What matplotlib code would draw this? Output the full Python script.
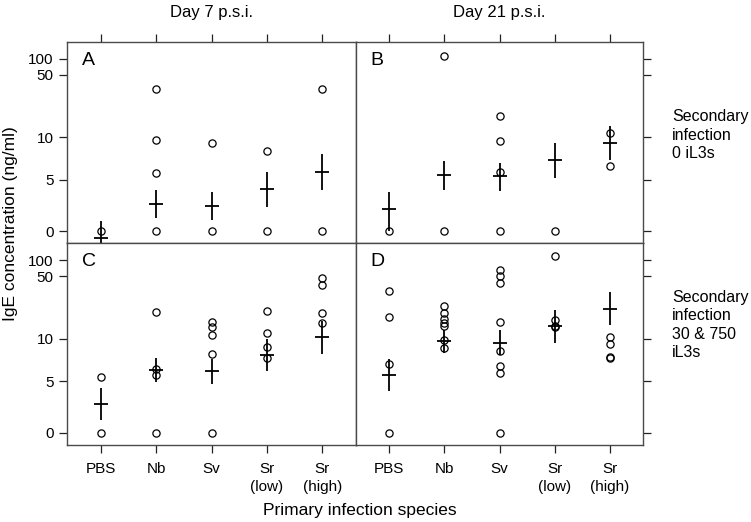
import numpy as np
import matplotlib
matplotlib.use('Agg')
import matplotlib.pyplot as plt
from matplotlib.ticker import NullLocator

plt.rcParams['font.family'] = ['Liberation Sans', 'DejaVu Sans']

categories = ['PBS', 'Nb', 'Sv', 'Sr\n(low)', 'Sr\n(high)']
y_ticks = [0, 5, 10, 50, 100]

# IgE values (ng/ml), one list of observations per group
pointsA = [[0], [35.0, 9.6, 5.6, 0], [9.1, 0], [8.1, 0], [35.0, 0]]
meanA = [-0.2, 1.6, 1.45, 3.4, 5.7]
loA = [-0.5, 0.59, 0.49, 1.34, 3.28]
hiA = [0.43, 3.18, 2.95, 5.73, 7.64]

pointsB = [[0], [111, 0], [17.5, 9.4, 5.75, 0], [0], [11.3, 6.3]]
meanB = [1.16, 5.41, 5.29, 6.93, 9.15]
loB = [0.0, 3.28, 3.09, 5.17, 6.93]
hiB = [2.99, 6.86, 6.64, 9.15, 13.6]

pointsC = [[5.4, 0], [20.1, 6.2, 5.6, 0], [15.8, 13.6, 11.1, 7.9, 0],
           [20.8, 11.6, 8.8, 7.4], [47.9, 39.6, 19.5, 15.3]]
meanC = [1.77, 6.1, 5.92, 7.71, 10.4]
loC = [0.59, 4.87, 4.41, 5.92, 7.92]
hiC = [3.82, 7.42, 7.31, 10.0, 16.1]

pointsD = [[34.4, 17.7, 6.65, 0], [23.7, 19.8, 16.7, 15.3, 14.0, 9.8, 8.6],
           [66.8, 50, 41.6, 15.8, 8.2, 6.5, 5.8, 0], [119, 16.4, 14.0, 13.6],
           [10.5, 9.3, 7.5, 7.4]]
meanD = [5.57, 9.7, 9.43, 14.0, 22.1]
loD = [3.29, 8.01, 7.71, 9.43, 14.4]
hiD = [7.31, 12.8, 12.6, 21.2, 33.2]

# the y axis is a compressed scale; where each labelled value sits (px from panel bottom)
tick_pos = [12, 63.5, 106, 168.8, 184.6]
U = np.log1p(y_ticks)


def lin_extrap(x, xp, fp):
    x = np.asarray(x, dtype=float)
    y = np.interp(x, xp, fp)
    y = np.where(x < xp[0], fp[0] + (x - xp[0]) * (fp[1] - fp[0]) / (xp[1] - xp[0]), y)
    y = np.where(x > xp[-1], fp[-1] + (x - xp[-1]) * (fp[-1] - fp[-2]) / (xp[-1] - xp[-2]), y)
    return y


def fwd(v):
    return lin_extrap(np.log1p(np.clip(v, -0.999, None)), U, tick_pos)


def inv(t):
    return np.expm1(lin_extrap(t, tick_pos, U))


W, H = 751, 522
x0, xm, x1 = 67.3, 355.7, 643.3
y0, ym, y1 = 41.7, 243.3, 445.0
panel_h = ym - y0


def box(l, t, r, b):
    return [l / W, 1 - b / H, (r - l) / W, (b - t) / H]


fig = plt.figure(figsize=(7.51, 5.22), dpi=100)
edge = '#4a4a4a'

panels = [
    ('A', box(x0, y0, xm, ym), pointsA, meanA, loA, hiA, True, True),
    ('B', box(xm, y0, x1, ym), pointsB, meanB, loB, hiB, True, False),
    ('C', box(x0, ym, xm, y1), pointsC, meanC, loC, hiC, False, True),
    ('D', box(xm, ym, x1, y1), pointsD, meanD, loD, hiD, False, False),
]

xs = np.arange(1, len(categories) + 1)
for letter, rect, pts, mean, lo, hi, top, left in panels:
    ax = fig.add_axes(rect)
    ax.set_yscale('function', functions=(fwd, inv))
    for i, p in enumerate(pts):
        ax.plot([xs[i]] * len(p), p, 'o', mfc='none', mec='black', ms=5.2, mew=0.9,
                clip_on=False, zorder=3)
    ax.vlines(xs, lo, hi, color='black', lw=1.3, zorder=4)
    ax.plot(xs, mean, '_', color='black', ms=9.5, mew=1.3, zorder=4)

    ax.set_xlim(0.4, 5.6)
    ax.set_ylim(inv(0), inv(panel_h))
    ax.set_yticks(y_ticks)
    ax.yaxis.set_minor_locator(NullLocator())
    ax.set_xticks(xs)
    ax.xaxis.set_minor_locator(NullLocator())

    for s in ax.spines.values():
        s.set_color(edge)
        s.set_linewidth(1.0)
    ax.tick_params(direction='out', length=6, width=0.9, color='#222222',
                   labelsize=11, pad=4)
    if top:
        ax.xaxis.tick_top()
        ax.set_xticklabels([])
    else:
        ax.set_xticklabels(categories)
        for lbl in ax.get_xticklabels():
            lbl.set_linespacing(1.4)
        ax.tick_params(axis='x', pad=6)
    if left:
        ax.set_yticklabels([str(v) for v in y_ticks])
    else:
        ax.yaxis.tick_right()
        ax.set_yticklabels([])

    ax.text(0.05, 0.95, letter, transform=ax.transAxes, fontsize=14,
            ha='left', va='top')

fig.text((x0 + xm) / 2 / W, 1 - 12 / H, 'Day 7 p.s.i.', ha='center', va='center', fontsize=12)
fig.text((xm + x1) / 2 / W, 1 - 12 / H, 'Day 21 p.s.i.', ha='center', va='center', fontsize=12)
fig.text(11 / W, 1 - 224 / H, 'IgE concentration (ng/ml)', rotation=90,
         ha='center', va='center', fontsize=12.5)
fig.text(360 / W, 1 - 511 / H, 'Primary infection species', ha='center', va='center',
         fontsize=12.5)
fig.text(672 / W, 1 - 135 / H, 'Secondary\ninfection\n0 iL3s', ha='left', va='center',
         fontsize=11.5, linespacing=1.3)
fig.text(672 / W, 1 - 325 / H, 'Secondary\ninfection\n30 & 750\niL3s', ha='left',
         va='center', fontsize=11.5, linespacing=1.3)

fig.savefig('out.png', dpi=100)
